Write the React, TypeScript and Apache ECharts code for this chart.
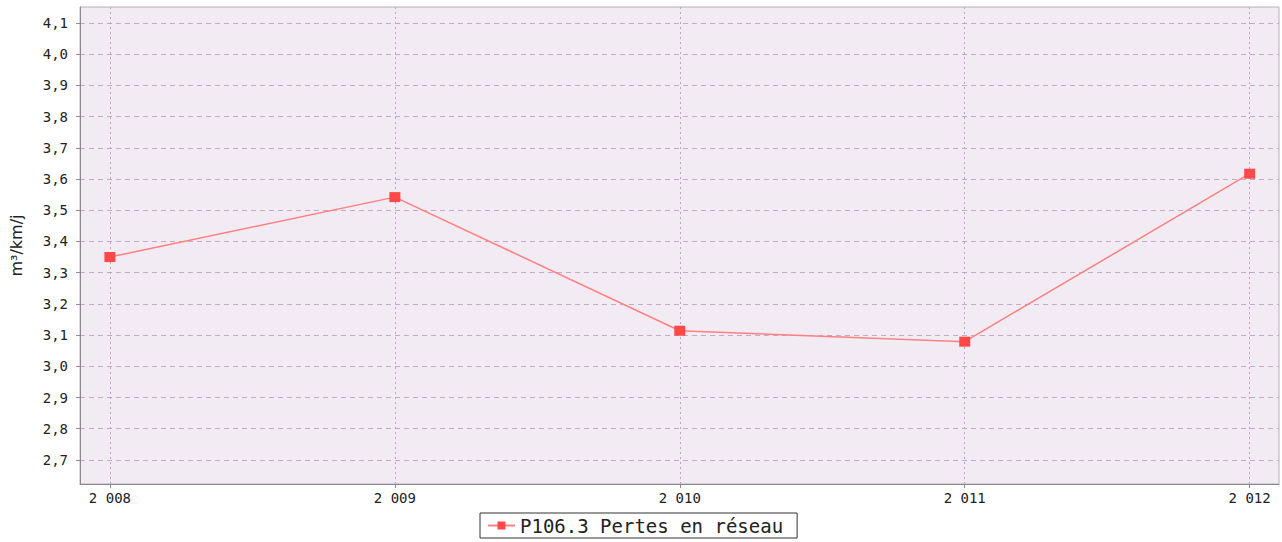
import React, { useEffect, useRef } from 'react';
import * as echarts from 'echarts';

const years = [2008, 2009, 2010, 2011, 2012];
const values = [3.35, 3.542, 3.114, 3.079, 3.617];
const yTicks = [2.7, 2.8, 2.9, 3.0, 3.1, 3.2, 3.3, 3.4, 3.5, 3.6, 3.7, 3.8, 3.9, 4.0, 4.1];
const seriesName = 'P106.3 Pertes en réseau';
const yName = 'm³/km/j';

const fmtYear = (v: number) => String(Math.round(v)).replace(/(\d)(\d{3})$/, '$1 $2');
const fmtY = (v: number) => v.toFixed(1).replace('.', ',');

export default function App() {
  const ref = useRef<HTMLDivElement>(null);
  useEffect(() => {
    const chart = echarts.init(ref.current!, null, { renderer: 'svg' });
    chart.setOption({
      animation: false,
      textStyle: { fontFamily: 'DejaVu Sans' },
      grid: {
        left: 79,
        right: 3,
        top: 7,
        bottom: 58,
        show: true,
        backgroundColor: '#f3ebf3',
        borderColor: '#b8b0b8',
        borderWidth: 1,
      },
      xAxis: {
        type: 'value',
        min: 2007.895,
        max: 2012.103,
        axisLine: { show: true, lineStyle: { color: '#888888', width: 1 } },
        axisTick: { show: true, customValues: years, length: 4, lineStyle: { color: '#a080a8' } },
        axisLabel: {
          customValues: years,
          formatter: fmtYear,
          color: '#222',
          fontSize: 14,
          fontFamily: 'DejaVu Sans Mono',
          margin: 7,
        },
        splitLine: { show: true, lineStyle: { color: '#c89ad0', type: [2, 3], width: 1 } },
      },
      yAxis: {
        type: 'value',
        min: 2.623,
        max: 4.151,
        name: yName,
        nameLocation: 'middle',
        nameGap: 56,
        nameTextStyle: { fontSize: 16, color: '#222', fontFamily: 'DejaVu Sans' },
        axisLine: { show: true, lineStyle: { color: '#888888', width: 1 } },
        axisTick: { show: true, customValues: yTicks, length: 4, lineStyle: { color: '#a080a8' } },
        axisLabel: {
          customValues: yTicks,
          formatter: fmtY,
          color: '#222',
          fontSize: 14,
          fontFamily: 'DejaVu Sans Mono',
          margin: 12,
        },
        splitLine: { show: true, lineStyle: { color: '#c8a8c8', type: [5, 4], width: 1 } },
      },
      legend: {
        left: 480,
        top: 513,
        orient: 'horizontal',
        borderColor: '#333',
        borderWidth: 1,
        borderRadius: 0,
        padding: [3, 14, 3, 7],
        itemWidth: 27,
        itemHeight: 10,
        itemGap: 6,
        textStyle: { fontSize: 19, color: '#222', fontFamily: 'DejaVu Sans Mono' },
        data: [seriesName],
      },
      series: [
        {
          name: seriesName,
          type: 'line',
          data: years.map((y, i) => [y, values[i]]),
          symbol: 'rect',
          symbolSize: [11, 10],
          itemStyle: { color: '#ff4848' },
          lineStyle: { color: '#ff8080', width: 1.5 },
        },
      ],
    });
    return () => chart.dispose();
  }, []);
  return <div ref={ref} style={{ position: 'absolute', left: 0, top: 0, width: 1282, height: 542 }} />;
}
